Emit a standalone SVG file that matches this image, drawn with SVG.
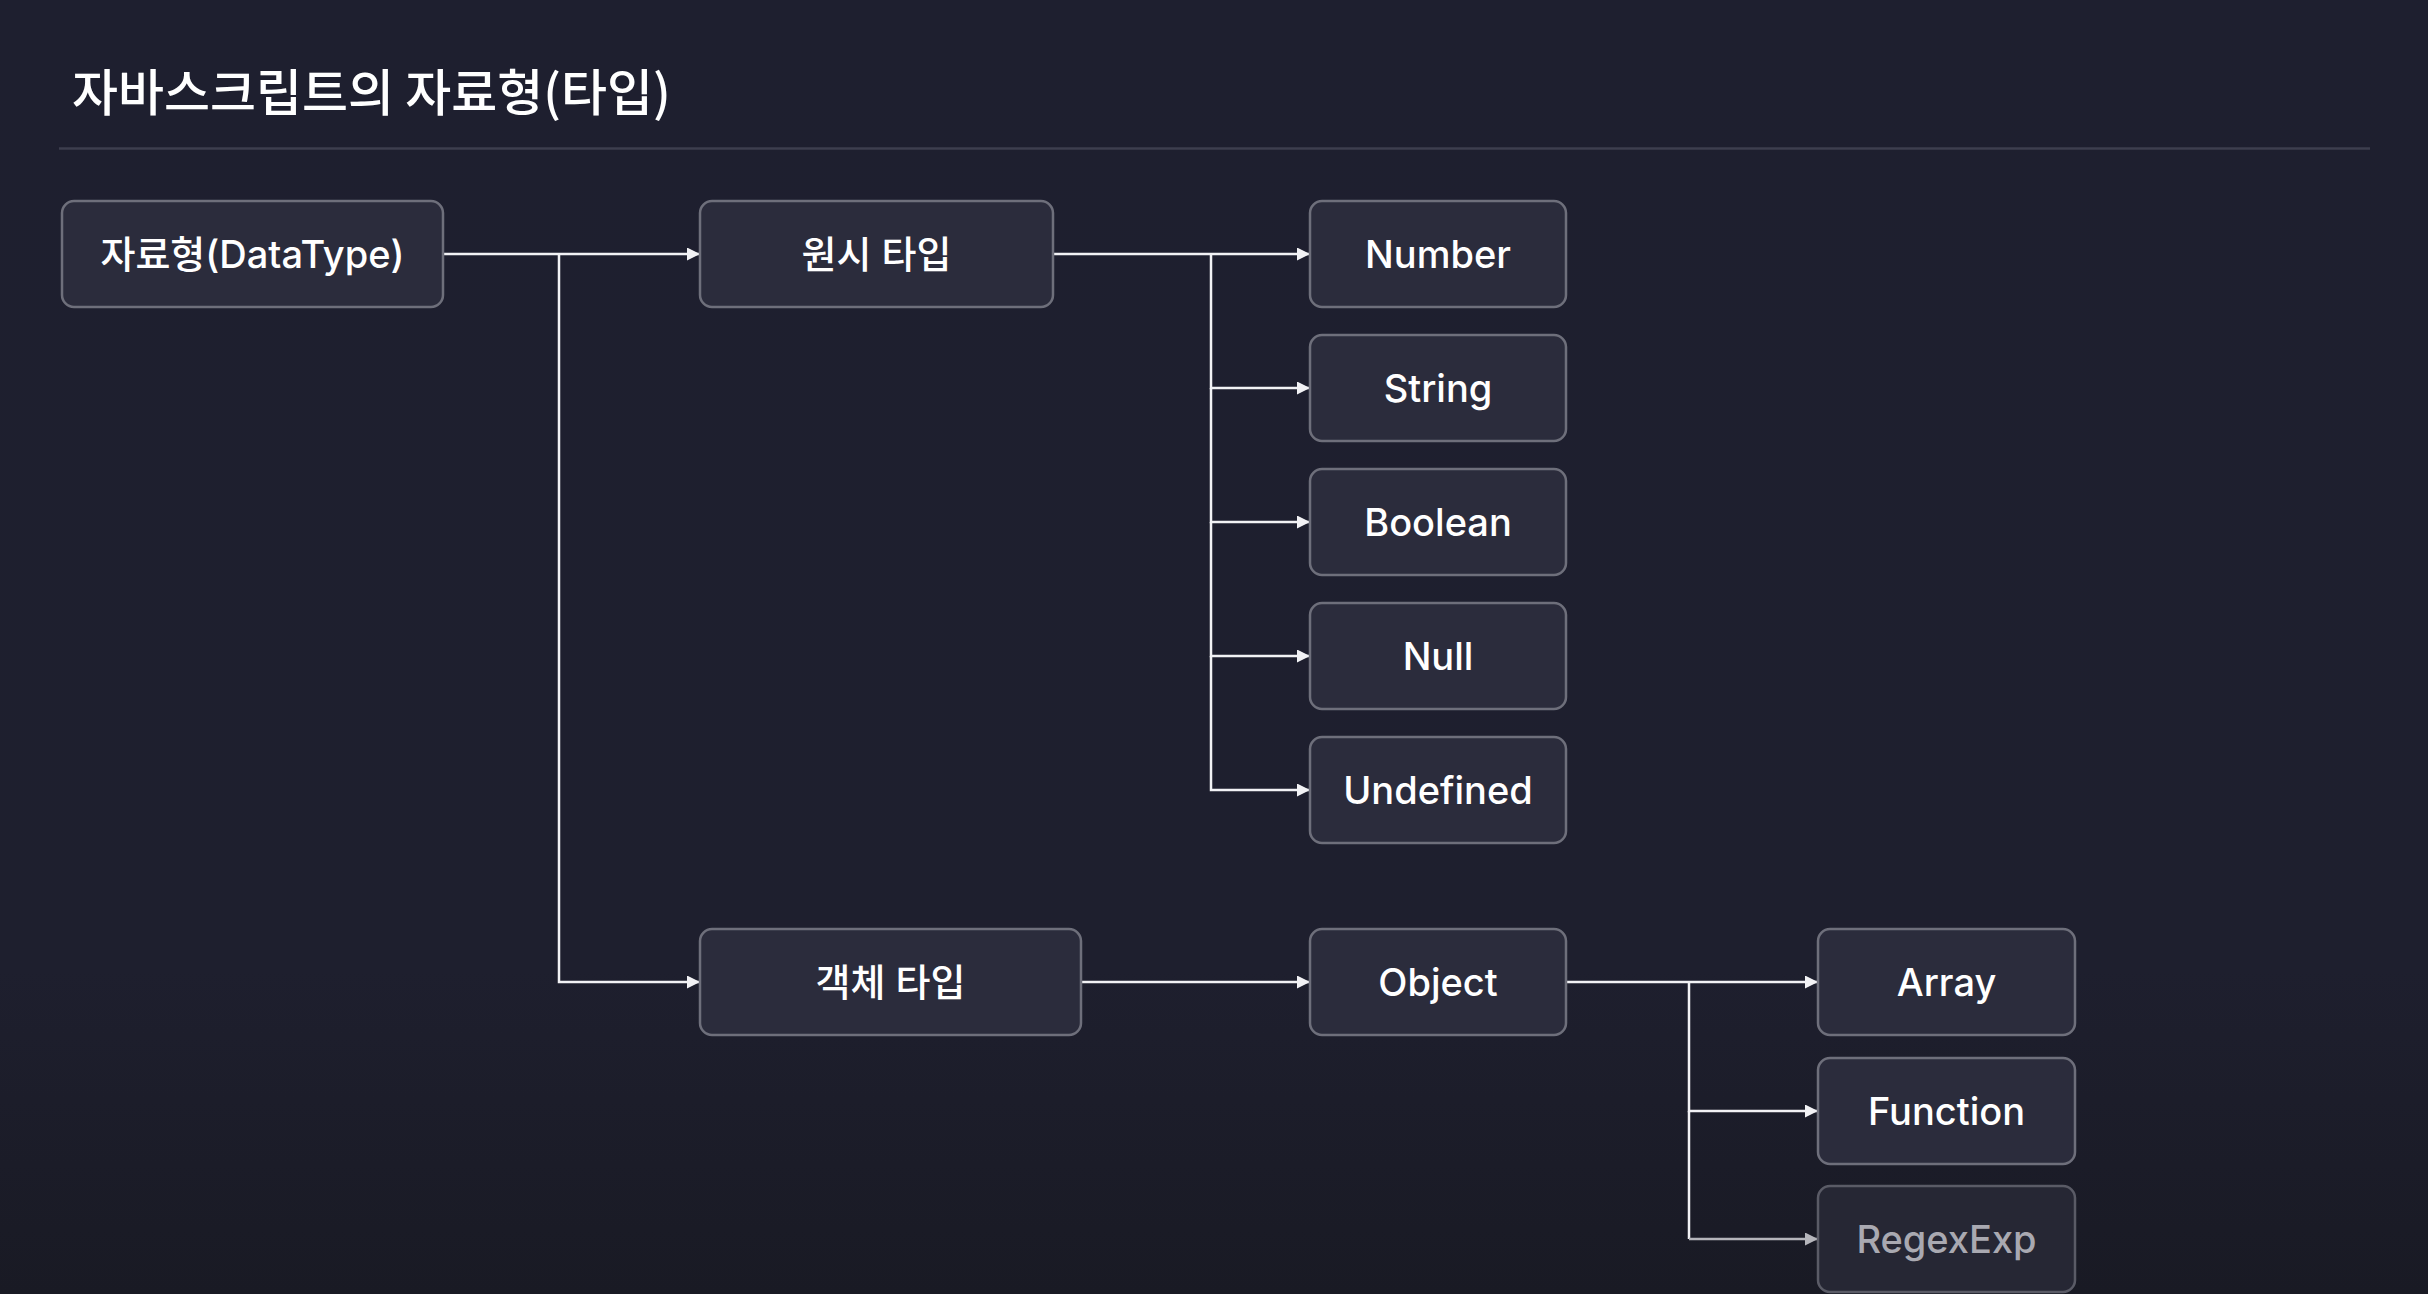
<svg xmlns="http://www.w3.org/2000/svg" width="2428" height="1294" viewBox="0 0 2428 1294">
<defs>
<linearGradient id="bg" x1="0" y1="0" x2="0" y2="1">
<stop offset="0" stop-color="#1e1f2f"/>
<stop offset="0.75" stop-color="#1e1f2e"/>
<stop offset="1" stop-color="#191a24"/>
</linearGradient>
<marker id="ah" viewBox="0 0 12 12" refX="12" refY="6" markerWidth="13" markerHeight="13" markerUnits="userSpaceOnUse" orient="auto">
<path d="M0,0 L12,6 L0,12 Z" fill="#f2f2f5"/>
</marker>
<marker id="ahd" viewBox="0 0 12 12" refX="12" refY="6" markerWidth="13" markerHeight="13" markerUnits="userSpaceOnUse" orient="auto">
<path d="M0,0 L12,6 L0,12 Z" fill="#b5b5bb"/>
</marker>
<style>
.node rect{fill:#2b2c3c;stroke:#6e6f7b;stroke-width:2.5}
.node text{fill:#ffffff;font-family:Inter,"Noto Sans CJK KR",sans-serif;font-size:38px;font-weight:500;text-anchor:middle}
.dim rect{stroke:#5a5b66;fill:#262734}
.dim text{fill:#a9a9b1}
.conn path{fill:none;stroke:#f2f2f5;stroke-width:2.5}
.conn path.a{marker-end:url(#ah)}
.conn path.d{stroke:#b5b5bb;marker-end:url(#ahd)}
.title{fill:#ffffff;font-family:"Noto Sans CJK KR",sans-serif;font-size:50px;font-weight:500}
</style>
</defs>
<rect width="2428" height="1294" fill="url(#bg)"/>
<text class="title" x="72" y="111">자바스크립트의 자료형(타입)</text>
<line x1="59" y1="148.5" x2="2370" y2="148.5" stroke="#3d3e4e" stroke-width="2.5"/>

<g id="connectors" class="conn">
<path class="a" d="M443,254 H700"/>
<path class="a" d="M559,254 V982 H700"/>
<path class="a" d="M1053,254 H1310"/>
<path class="a" d="M1211,254 V388 H1310"/>
<path class="a" d="M1211,388 V522 H1310"/>
<path class="a" d="M1211,522 V656 H1310"/>
<path class="a" d="M1211,656 V790 H1310"/>
<path class="a" d="M1081,982 H1310"/>
<path class="a" d="M1566,982 H1818"/>
<path class="a" d="M1689,982 V1111 H1818"/>
<path d="M1689,1111 V1239"/>
<path class="d" d="M1689,1239 H1818"/>
</g>

<g id="datatype" class="node"><rect x="62" y="201" width="381" height="106" rx="12"/><text x="252.5" y="268">자료형(DataType)</text></g>
<g id="primitive" class="node"><rect x="700" y="201" width="353" height="106" rx="12"/><text x="876.5" y="268">원시 타입</text></g>
<g id="number" class="node"><rect x="1310" y="201" width="256" height="106" rx="12"/><text x="1438" y="268">Number</text></g>
<g id="string" class="node"><rect x="1310" y="335" width="256" height="106" rx="12"/><text x="1438" y="402">String</text></g>
<g id="boolean" class="node"><rect x="1310" y="469" width="256" height="106" rx="12"/><text x="1438" y="536">Boolean</text></g>
<g id="null" class="node"><rect x="1310" y="603" width="256" height="106" rx="12"/><text x="1438" y="670">Null</text></g>
<g id="undefined" class="node"><rect x="1310" y="737" width="256" height="106" rx="12"/><text x="1438" y="804">Undefined</text></g>
<g id="objecttype" class="node"><rect x="700" y="929" width="381" height="106" rx="12"/><text x="890.5" y="996">객체 타입</text></g>
<g id="object" class="node"><rect x="1310" y="929" width="256" height="106" rx="12"/><text x="1438" y="996">Object</text></g>
<g id="array" class="node"><rect x="1818" y="929" width="257" height="106" rx="12"/><text x="1946.5" y="996">Array</text></g>
<g id="function" class="node"><rect x="1818" y="1058" width="257" height="106" rx="12"/><text x="1946.5" y="1125">Function</text></g>
<g id="regexexp" class="node dim"><rect x="1818" y="1186" width="257" height="106" rx="12"/><text x="1946.5" y="1253">RegexExp</text></g>
</svg>
